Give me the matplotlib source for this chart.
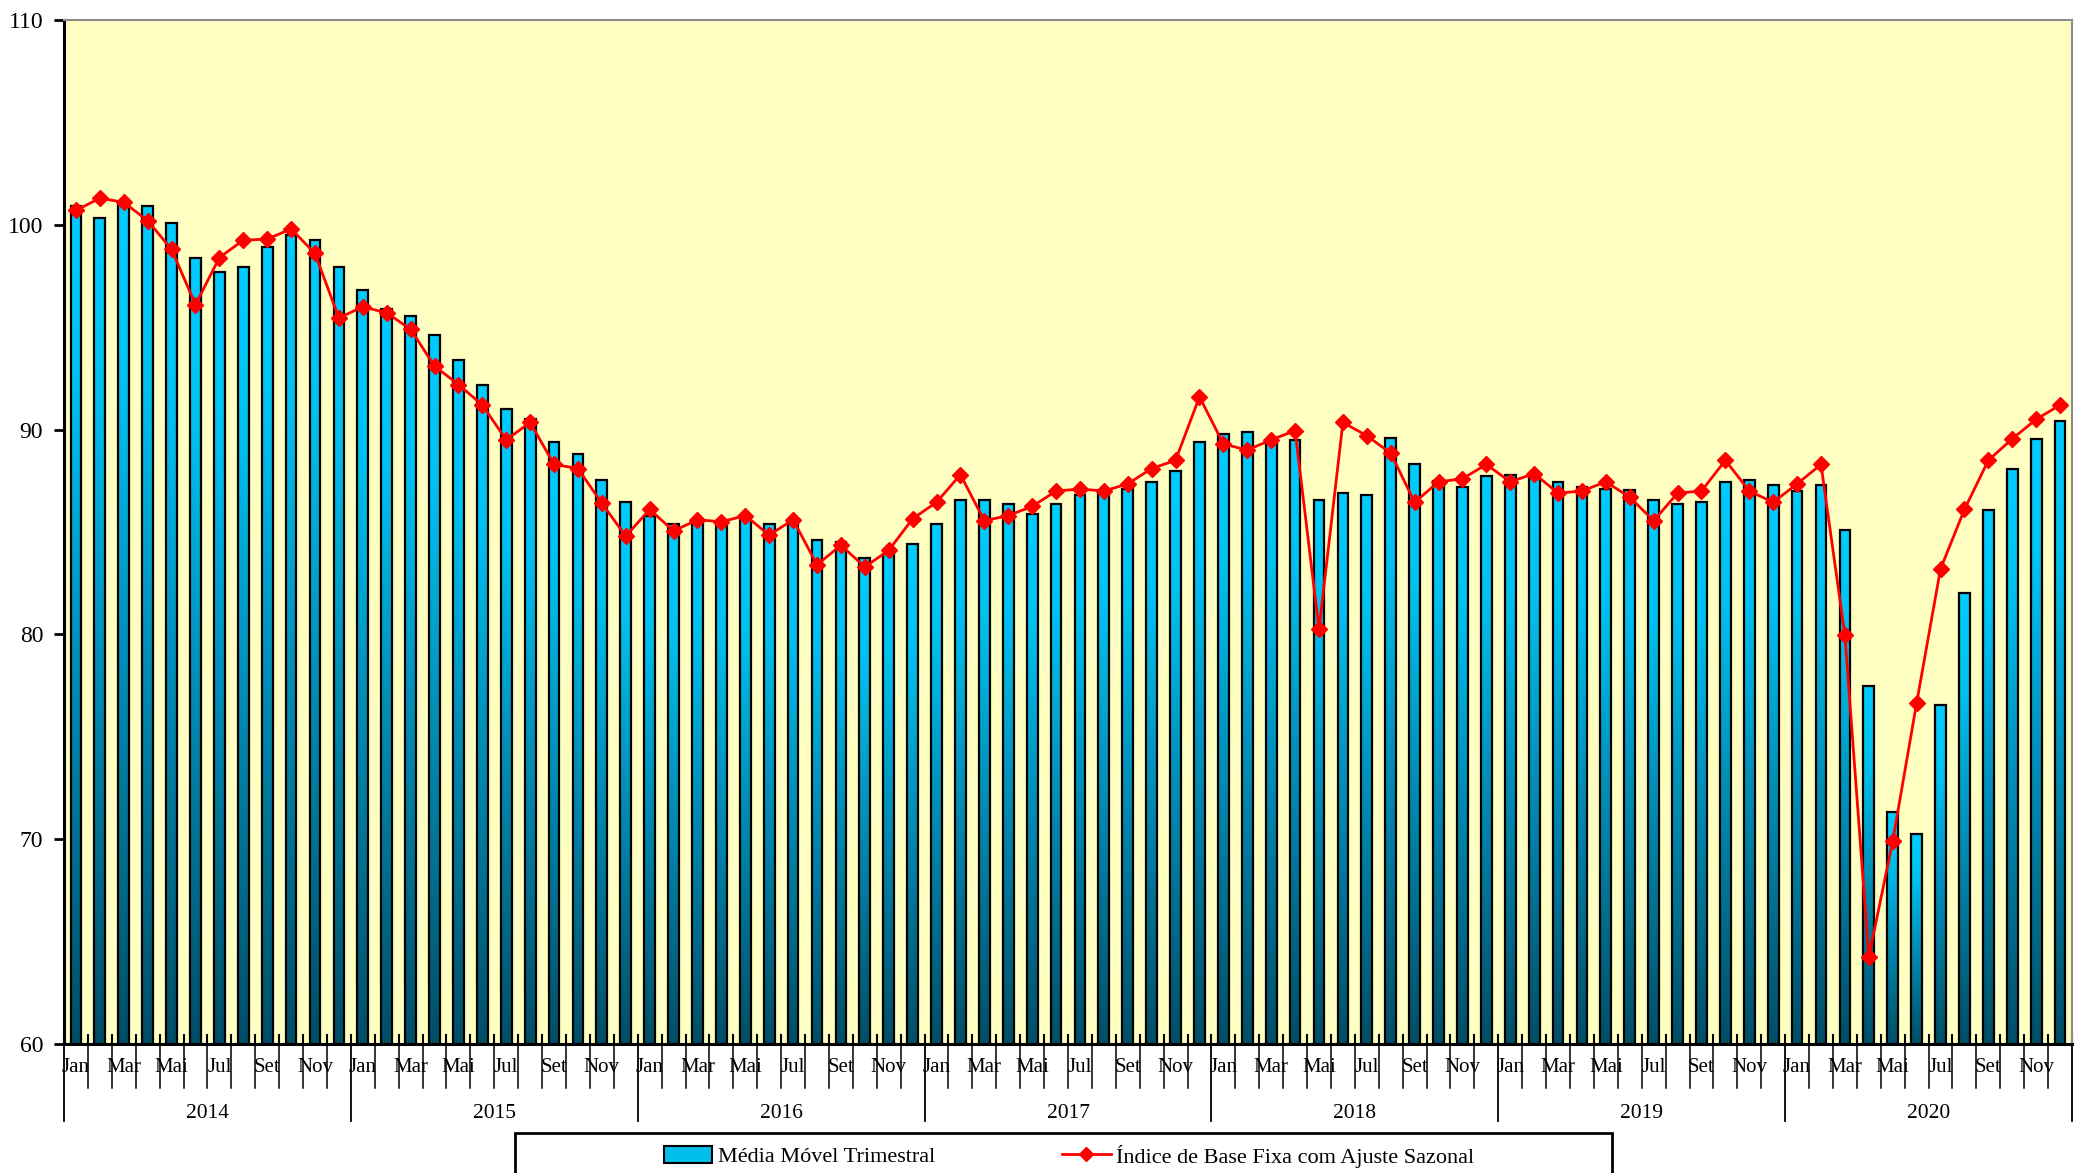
import numpy as np
import matplotlib
matplotlib.use("Agg")
import matplotlib.pyplot as plt
from matplotlib.colors import LinearSegmentedColormap
from matplotlib.patches import Rectangle
from matplotlib.lines import Line2D
import matplotlib.transforms as mtransforms

plt.rcParams['font.family'] = ['Liberation Serif', 'DejaVu Serif']

years = ['2014', '2015', '2016', '2017', '2018', '2019', '2020']
months = ['Jan', 'Fev', 'Mar', 'Abr', 'Mai', 'Jun', 'Jul', 'Ago', 'Set', 'Out', 'Nov', 'Dez']
shown_months = ['Jan', 'Mar', 'Mai', 'Jul', 'Set', 'Nov']

# Média Móvel Trimestral (bars)
mm_2014 = [100.9, 100.35, 101.05, 100.9, 100.1, 98.4, 97.7, 97.95, 98.9, 99.5, 99.25, 97.95]
mm_2015 = [96.8, 95.9, 95.55, 94.6, 93.4, 92.2, 91.0, 90.5, 89.4, 88.8, 87.55, 86.45]
mm_2016 = [85.8, 85.4, 85.5, 85.4, 85.65, 85.4, 85.4, 84.6, 84.5, 83.75, 83.95, 84.4]
mm_2017 = [85.4, 86.55, 86.55, 86.35, 85.9, 86.35, 86.8, 87.05, 87.1, 87.45, 88.0, 89.4]
mm_2018 = [89.8, 89.9, 89.45, 89.5, 86.55, 86.9, 86.8, 89.6, 88.3, 87.5, 87.2, 87.75]
mm_2019 = [87.8, 87.8, 87.45, 87.2, 87.1, 87.05, 86.55, 86.35, 86.45, 87.45, 87.55, 87.3]
mm_2020 = [87.0, 87.3, 85.1, 77.5, 71.35, 70.25, 76.55, 82.0, 86.05, 88.1, 89.55, 90.4]

# Índice de Base Fixa com Ajuste Sazonal (line)
ib_2014 = [100.7, 101.3, 101.1, 100.2, 98.8, 96.1, 98.4, 99.25, 99.3, 99.8, 98.6, 95.45]
ib_2015 = [96.0, 95.7, 94.9, 93.1, 92.2, 91.2, 89.5, 90.35, 88.3, 88.1, 86.4, 84.8]
ib_2016 = [86.1, 85.05, 85.6, 85.5, 85.8, 84.85, 85.6, 83.4, 84.35, 83.3, 84.1, 85.65]
ib_2017 = [86.45, 87.8, 85.55, 85.8, 86.25, 87.0, 87.1, 87.0, 87.35, 88.1, 88.5, 91.6]
ib_2018 = [89.3, 89.0, 89.5, 89.95, 80.25, 90.35, 89.7, 88.85, 86.45, 87.45, 87.6, 88.3]
ib_2019 = [87.45, 87.85, 86.9, 87.0, 87.45, 86.7, 85.55, 86.9, 87.0, 88.5, 87.0, 86.45]
ib_2020 = [87.35, 88.3, 79.95, 64.25, 69.9, 76.65, 83.2, 86.1, 88.5, 89.55, 90.5, 91.2]

y_ticks = [60, 70, 80, 90, 100, 110]

media_movel = mm_2014 + mm_2015 + mm_2016 + mm_2017 + mm_2018 + mm_2019 + mm_2020
indice = ib_2014 + ib_2015 + ib_2016 + ib_2017 + ib_2018 + ib_2019 + ib_2020
n = len(media_movel)
x = np.arange(n)

W, H = 2085, 1173
fig = plt.figure(figsize=(W / 100, H / 100), dpi=100)
fig.patch.set_facecolor('white')
L, R, T, B = 64, 2072, 20, 1044
ax = fig.add_axes([L / W, 1 - B / H, (R - L) / W, (B - T) / H])
ax.set_facecolor('#FFFFC2')

cmap = LinearSegmentedColormap.from_list(
    'tealgrad', [(0.0, '#004E66'), (0.5, '#0094BE'), (0.8, '#00C2F0'), (1.0, '#00CCFF')])
grad = np.linspace(0, 1, 256).reshape(-1, 1)

bars = ax.bar(x, media_movel, width=0.45, facecolor='none', edgecolor='black',
              linewidth=1.6, zorder=3)
ymin = y_ticks[0]
for rect in bars:
    bx, bw, bh = rect.get_x(), rect.get_width(), rect.get_height()
    im = ax.imshow(grad, extent=[bx, bx + bw, ymin, bh], origin='lower', cmap=cmap,
                   aspect='auto', zorder=2, interpolation='bilinear')
    im.set_clip_path(rect)

ax.plot(x, indice, color='#FF0000', linewidth=2, marker='D', markersize=8.5,
        markerfacecolor='#FF0000', markeredgecolor='#FF0000', zorder=4)

ax.set_xlim(-0.5, n - 0.5)
ax.set_ylim(y_ticks[0], y_ticks[-1])
ax.set_yticks(y_ticks)
ax.set_yticklabels([str(v) for v in y_ticks], fontsize=17)
ax.tick_params(axis='y', direction='out', length=7, width=2, pad=8, colors='black')

ax.set_xticks(np.arange(n + 1) - 0.5)
ax.set_xticklabels([])
ax.tick_params(axis='x', direction='in', length=7, width=1.5)

for s in ['left', 'bottom']:
    ax.spines[s].set_color('black')
    ax.spines[s].set_linewidth(2.2)
for s in ['top', 'right']:
    ax.spines[s].set_color('#8C8C8C')
    ax.spines[s].set_linewidth(1.5)

trans = mtransforms.blended_transform_factory(ax.transData, ax.transAxes)
ax_h = B - T
for k in range(n + 1):
    xb = k - 0.5
    if k % 12 == 0:
        ax.plot([xb, xb], [0, -(1121 - B) / ax_h], transform=trans, color='black',
                linewidth=1.3, clip_on=False, zorder=5)
    else:
        ax.plot([xb, xb], [0, -(1088 - B) / ax_h], transform=trans, color='black',
                linewidth=1.1, clip_on=False, zorder=5)

for i in range(n):
    m = months[i % 12]
    if m in shown_months:
        ax.text(i, -(1068 - B) / ax_h, m, transform=trans, ha='center', va='center',
                fontsize=15)

for j, yr in enumerate(years):
    ax.text(12 * j + 5.5, -(1113 - B) / ax_h, yr, transform=trans, ha='center',
            va='center', fontsize=15.5)

# legend box (cut off by the lower edge as in the original)
box = Rectangle((515 / W, -0.05), (1612 - 515) / W, (1 - 1133 / H) + 0.05,
                transform=fig.transFigure, facecolor='white', edgecolor='black',
                linewidth=2, zorder=1)
fig.patches.append(box)

h_bar = Rectangle((0, 0), 1, 1, facecolor='#00BFEA', edgecolor='black', linewidth=1.5)
h_line = Line2D([], [], color='#FF0000', linewidth=2, marker='D', markersize=7)
leg = fig.legend([h_bar, h_line],
                 ['Média Móvel Trimestral', 'Índice de Base Fixa com Ajuste Sazonal'],
                 loc='center', bbox_to_anchor=(1069 / W, 1 - 1156 / H), ncol=2,
                 frameon=False, fontsize=16, handlelength=2.2, handleheight=0.8,
                 columnspacing=5.7, handletextpad=0.25)

fig.savefig('out.png', dpi=100, facecolor='white')
